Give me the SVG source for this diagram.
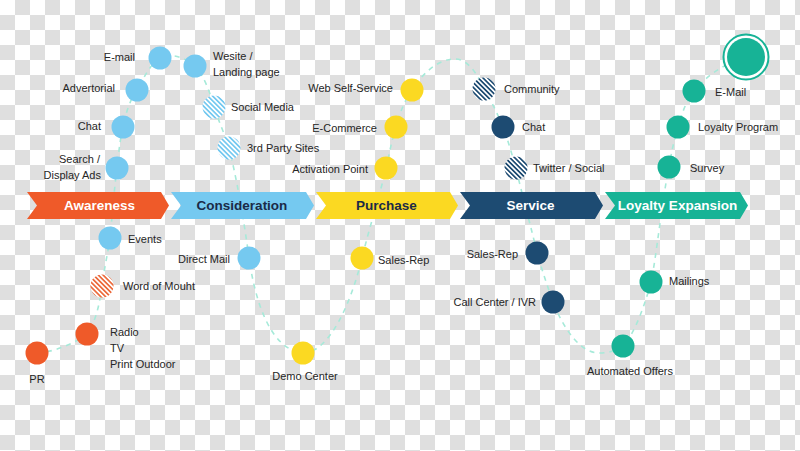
<svg xmlns="http://www.w3.org/2000/svg" width="800" height="451" viewBox="0 0 800 451">
<defs>
<pattern id="checker" width="30" height="30" patternUnits="userSpaceOnUse">
<rect width="30" height="30" fill="#ffffff"/>
<rect x="15" y="0" width="15" height="15" fill="#dfdfdf"/>
<rect x="0" y="15" width="15" height="15" fill="#dfdfdf"/>
</pattern>
<pattern id="hatchBlue" width="3.4" height="3.4" patternUnits="userSpaceOnUse" patternTransform="rotate(-45)">
<rect width="3.4" height="3.4" fill="#ffffff"/><rect width="1.7" height="3.4" fill="#75c9f0"/>
</pattern>
<pattern id="hatchNavy" width="3.4" height="3.4" patternUnits="userSpaceOnUse" patternTransform="rotate(-45)">
<rect width="3.4" height="3.4" fill="#ffffff"/><rect width="1.7" height="3.4" fill="#1d4b72"/>
</pattern>
<pattern id="hatchOrange" width="3.4" height="3.4" patternUnits="userSpaceOnUse" patternTransform="rotate(-45)">
<rect width="3.4" height="3.4" fill="#ffffff"/><rect width="1.7" height="3.4" fill="#ec6a3c"/>
</pattern>
</defs>
<style>
.lbl{font-family:"Liberation Sans",Arial,sans-serif;font-size:11px;fill:#262626}
.end{text-anchor:end}
.mid{text-anchor:middle}
.ttl{font-family:"Liberation Sans",Arial,sans-serif;font-size:13.5px;font-weight:bold;text-anchor:middle}
.orange{fill:#ef5a29}
.blue{fill:#75c9f0}
.yellow{fill:#fbd922}
.navy{fill:#1d4b72}
.teal{fill:#17b396}
.conn{fill:none;stroke:#a6ead9;stroke-width:1.6;stroke-dasharray:5 5}
</style>
<rect width="800" height="451" fill="url(#checker)"/>

<g id="connectors">
<path class="conn" d="M37,353 C55,352 75,343 87,334 C97,320 100,300 102,286 C104,270 108,252 110,238 C112,220 114,190 117,168 C119,150 120,140 123,127 C126,112 130,100 137,90 C144,78 150,64 160,58 C172,52 185,58 195,66 C204,76 210,92 214,107 C219,122 225,135 229,148 C236,175 244,220 249,258 C255,300 270,350 303,353 C330,353 352,300 362,258 C370,225 380,195 386,168 C390,150 392,140 396,127 C400,112 405,100 412,90 C425,70 440,59 455,59 C468,59 478,75 484,89 C492,102 498,115 503,127 C508,140 512,155 516,168 C522,195 532,230 537,253 C542,270 548,288 553,302 C565,332 582,354 600,353 C610,353 617,350 623,346 C634,335 645,305 651,282 C656,260 662,200 669,167 C672,150 674,140 678,127 C682,112 687,100 694,91 C705,78 720,65 746,57"/>
</g>

<g id="stage-awareness">
<polygon class="orange" points="27,192 161,192 169,205.5 161,219 27,219 37,205.5"/>
<text class="ttl" x="99.5" y="210" fill="#ffffff">Awareness</text>
</g>
<g id="stage-consideration">
<polygon class="blue" points="171,192 306,192 314,205.5 306,219 171,219 181,205.5"/>
<text class="ttl" x="242" y="210" fill="#1b2a47">Consideration</text>
</g>
<g id="stage-purchase">
<polygon class="yellow" points="316,192 450,192 458,205.5 450,219 316,219 326,205.5"/>
<text class="ttl" x="386.5" y="210" fill="#1b2a47">Purchase</text>
</g>
<g id="stage-service">
<polygon class="navy" points="460,192 595,192 603,205.5 595,219 460,219 470,205.5"/>
<text class="ttl" x="530.5" y="210" fill="#ffffff">Service</text>
</g>
<g id="stage-loyalty">
<polygon class="teal" points="605,192 740,192 748,205.5 740,219 605,219 615,205.5"/>
<text class="ttl" x="677.5" y="210" fill="#ffffff">Loyalty Expansion</text>
</g>

<g id="n-email"><circle class="blue" cx="160" cy="58" r="11.5"/><text class="lbl end" x="135" y="61">E-mail</text></g>
<g id="n-website"><circle class="blue" cx="195" cy="66" r="11.5"/><text class="lbl" x="213" y="60">Wesite /</text><text class="lbl" x="213" y="76">Landing page</text></g>
<g id="n-advertorial"><circle class="blue" cx="137" cy="90" r="11.5"/><text class="lbl end" x="115" y="92">Advertorial</text></g>
<g id="n-social-media"><circle fill="url(#hatchBlue)" cx="214" cy="107" r="11.5"/><text class="lbl" x="231" y="111">Social Media</text></g>
<g id="n-chat-c"><circle class="blue" cx="123" cy="127" r="11.5"/><text class="lbl end" x="101" y="130">Chat</text></g>
<g id="n-3rd-party"><circle fill="url(#hatchBlue)" cx="229" cy="148" r="11.5"/><text class="lbl" x="247" y="152">3rd Party Sites</text></g>
<g id="n-search"><circle class="blue" cx="117" cy="168" r="11.5"/><text class="lbl end" x="100" y="163">Search /</text><text class="lbl end" x="101" y="179">Display Ads</text></g>

<g id="n-events"><circle class="blue" cx="110" cy="238" r="11.5"/><text class="lbl" x="128" y="243">Events</text></g>
<g id="n-word-of-mouth"><circle fill="url(#hatchOrange)" cx="102" cy="286" r="11.5"/><text class="lbl" x="123" y="290">Word of Mouht</text></g>
<g id="n-radio"><circle class="orange" cx="87" cy="334" r="11.5"/><text class="lbl" x="110" y="336">Radio</text><text class="lbl" x="110" y="352">TV</text><text class="lbl" x="110" y="368">Print Outdoor</text></g>
<g id="n-pr"><circle class="orange" cx="37" cy="353" r="11.5"/><text class="lbl mid" x="37" y="383">PR</text></g>
<g id="n-direct-mail"><circle class="blue" cx="249" cy="258" r="11.5"/><text class="lbl end" x="230" y="263">Direct Mail</text></g>

<g id="n-web-self-service"><circle class="yellow" cx="412" cy="90" r="11.5"/><text class="lbl end" x="393" y="92">Web Self-Service</text></g>
<g id="n-ecommerce"><circle class="yellow" cx="396" cy="127" r="11.5"/><text class="lbl end" x="377" y="132">E-Commerce</text></g>
<g id="n-activation"><circle class="yellow" cx="386" cy="168" r="11.5"/><text class="lbl end" x="368" y="173">Activation Point</text></g>
<g id="n-sales-rep-p"><circle class="yellow" cx="362" cy="258" r="11.5"/><text class="lbl" x="378" y="264">Sales-Rep</text></g>
<g id="n-demo-center"><circle class="yellow" cx="303" cy="353" r="11.5"/><text class="lbl mid" x="305" y="380">Demo Center</text></g>

<g id="n-community"><circle fill="url(#hatchNavy)" cx="484" cy="89" r="11.5"/><text class="lbl" x="504" y="93">Community</text></g>
<g id="n-chat-s"><circle class="navy" cx="503" cy="127" r="11.5"/><text class="lbl" x="522" y="131">Chat</text></g>
<g id="n-twitter"><circle fill="url(#hatchNavy)" cx="516" cy="168" r="11.5"/><text class="lbl" x="533" y="172">Twitter / Social</text></g>
<g id="n-sales-rep-s"><circle class="navy" cx="537" cy="253" r="11.5"/><text class="lbl end" x="518" y="258">Sales-Rep</text></g>
<g id="n-call-center"><circle class="navy" cx="553" cy="302" r="11.5"/><text class="lbl end" x="536" y="306">Call Center / IVR</text></g>

<g id="n-automated-offers"><circle class="teal" cx="623" cy="346" r="11.5"/><text class="lbl mid" x="630" y="375">Automated Offers</text></g>
<g id="n-mailings"><circle class="teal" cx="651" cy="282" r="11.5"/><text class="lbl" x="669" y="285">Mailings</text></g>
<g id="n-survey"><circle class="teal" cx="669" cy="167" r="11.5"/><text class="lbl" x="690" y="172">Survey</text></g>
<g id="n-loyalty-program"><circle class="teal" cx="678" cy="127" r="11.5"/><text class="lbl" x="698" y="131">Loyalty Program</text></g>
<g id="n-email-l"><circle class="teal" cx="694" cy="91" r="11.5"/><text class="lbl" x="715" y="96">E-Mail</text></g>
<g id="n-goal"><circle cx="746" cy="57" r="22.5" fill="#ffffff" stroke="#17b396" stroke-width="2"/><circle class="teal" cx="746" cy="57" r="19"/></g>
</svg>
